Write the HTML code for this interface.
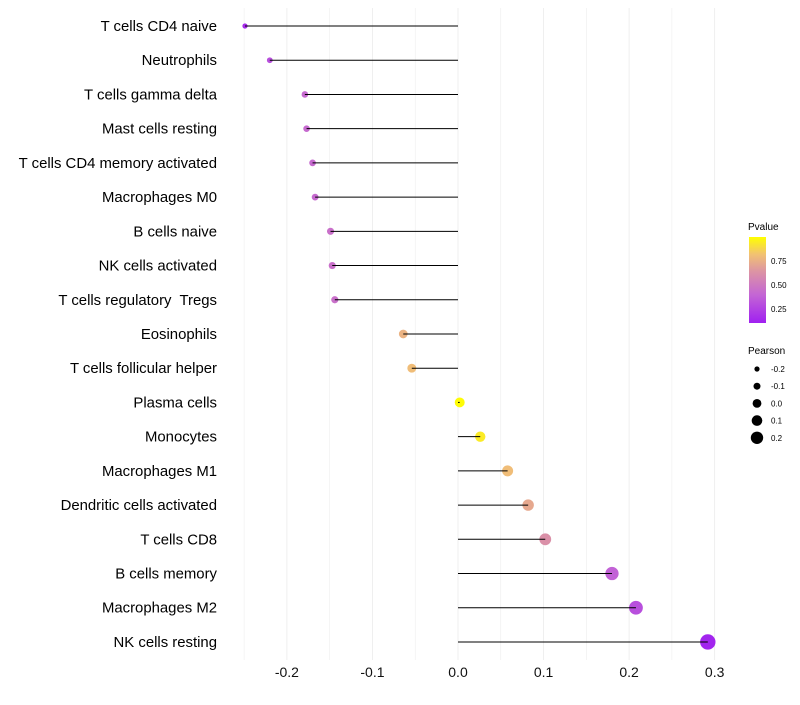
<!DOCTYPE html>
<html><head><meta charset="utf-8"><style>
body{margin:0;background:#fff;font-family:"Liberation Sans",sans-serif}
</style></head><body>
<svg id="chart" width="800" height="700" xmlns="http://www.w3.org/2000/svg">
<defs><linearGradient id="pg" x1="0" y1="1" x2="0" y2="0">
<stop offset="0" stop-color="#a020f0"/><stop offset="0.33" stop-color="#c466d4"/><stop offset="0.6" stop-color="#dc94a4"/><stop offset="0.8" stop-color="#f2c272"/><stop offset="1" stop-color="#ffff00"/></linearGradient></defs>
<g id="grid"></g><g id="marks"></g><g id="labels"></g>
<g font-size="10">
<text x="748" y="230" font-size="10" fill="#000">Pvalue</text>
<rect x="749" y="237" width="17" height="86" fill="url(#pg)"/>
<text x="771" y="264" font-size="8">0.75</text>
<text x="771" y="288" font-size="8">0.50</text>
<text x="771" y="312" font-size="8">0.25</text>
<text x="748" y="354" font-size="10">Pearson</text>
<g id="sizeleg"></g>
</g>
</svg>
<script>
const categories=["T cells CD4 naive","Neutrophils","T cells gamma delta","Mast cells resting","T cells CD4 memory activated","Macrophages M0","B cells naive","NK cells activated","T cells regulatory\u00a0 Tregs","Eosinophils","T cells follicular helper","Plasma cells","Monocytes","Macrophages M1","Dendritic cells activated","T cells CD8","B cells memory","Macrophages M2","NK cells resting"];
const pearson=[-0.249,-0.22,-0.179,-0.177,-0.170,-0.167,-0.149,-0.147,-0.144,-0.064,-0.054,0.002,0.026,0.058,0.082,0.102,0.18,0.208,0.292];
const pvalue=[0.15,0.3,0.42,0.42,0.42,0.42,0.45,0.45,0.45,0.76,0.8,0.99,0.94,0.8,0.72,0.62,0.38,0.3,0.12];
const xTicks=[-0.2,-0.1,0,0.1,0.2,0.3];
const xTickLabels=["-0.2","-0.1","0.0","0.1","0.2","0.3"];
const sizeLegend=[-0.2,-0.1,0,0.1,0.2];
const ns="http://www.w3.org/2000/svg";
const X=v=>458+v*855.5;
const Y=i=>26+i*34.22;
const R=v=>Math.max(2,2.6+(v+0.25)*9.4);
const stops=[[0,[160,32,240]],[0.33,[196,102,212]],[0.6,[220,148,164]],[0.8,[242,194,114]],[1,[255,255,0]]];
function col(p){let t=(p-0.1)/0.9;t=Math.max(0,Math.min(1,t));for(let k=1;k<stops.length;k++){if(t<=stops[k][0]){const a=stops[k-1],b=stops[k],f=(t-a[0])/(b[0]-a[0]);return "rgb("+a[1].map((c,j)=>Math.round(c+(b[1][j]-c)*f)).join(",")+")";}}return "rgb(255,255,0)";}
function mk(tag,attrs,parent){const e=document.createElementNS(ns,tag);for(const k in attrs)e.setAttribute(k,attrs[k]);parent.appendChild(e);return e;}
const grid=document.getElementById('grid'),marks=document.getElementById('marks'),labels=document.getElementById('labels');
for(let v=-0.25;v<=0.301;v+=0.05){const g=mk('line',{x1:X(v),x2:X(v),y1:8,y2:660,stroke:"#ebebeb","stroke-width":Math.abs(Math.round(v*20))%2===0?0.8:0.5},grid);

}
xTicks.forEach((v,i)=>{const t=mk('text',{x:X(v),y:677,"text-anchor":"middle","font-size":14,fill:"#111"},labels);t.textContent=xTickLabels[i];

});
categories.forEach((c,i)=>{const y=Y(i);
const d=mk('circle',{cx:X(pearson[i]),cy:y,r:R(pearson[i]),fill:col(pvalue[i])},marks);


const l=mk('line',{x1:X(0),x2:X(pearson[i]),y1:y,y2:y,stroke:"#000","stroke-width":1},marks);


const t=mk('text',{x:217,y:y+5,"text-anchor":"end","font-size":14.9,fill:"#000"},labels);t.textContent=c;

});
const sl=document.getElementById('sizeleg');
sizeLegend.forEach((v,i)=>{const y=369+i*17.2;
const c=mk('circle',{cx:757,cy:y,r:2.6+(v+0.2)*9,fill:"#000"},sl);


const t=mk('text',{x:771,y:y+3,"font-size":8},sl);t.textContent=v.toFixed(1);

});
</script>
</body></html>
